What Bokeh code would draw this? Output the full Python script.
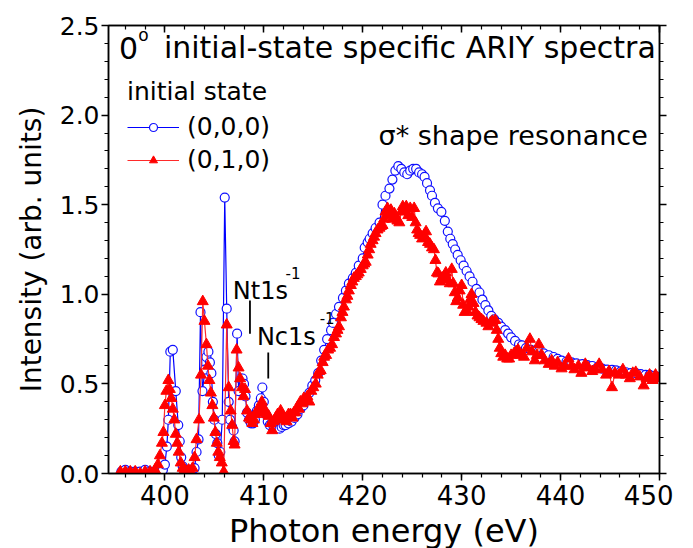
from bokeh.plotting import figure
from bokeh.models import (ColumnDataSource, Label, Legend, LegendItem, LinearAxis,
                          SingleIntervalTicker, Range1d, PrintfTickFormatter,
                          CustomJSTickFormatter)
from bokeh.embed import file_html
from bokeh.resources import INLINE

# ---------------- data ----------------
blue_energy = [
    395.6, 396.0, 396.5, 397.0, 397.5, 398.0, 398.5, 399.0, 399.5, 399.8,
    400.0, 400.2, 400.35, 400.55, 400.8, 401.1, 401.35, 401.5, 401.65, 401.8,
    402.0, 402.2, 402.4, 402.6, 402.8, 403.0, 403.2, 403.4, 403.6, 403.8,
    404.05, 404.2, 404.4, 404.55, 404.7, 404.85, 405.0, 405.15, 405.3, 405.45,
    405.6, 405.8, 406.05, 406.25, 406.45, 406.6, 406.8, 406.95, 407.05, 407.3,
    407.45, 407.65, 407.85, 408.0, 408.15, 408.3, 408.5, 408.7, 408.9, 409.1,
    409.3, 409.5, 409.7, 409.85, 410.0, 410.2, 410.4, 410.6, 410.8, 411.0,
    411.2, 411.4, 411.6, 411.8, 412.0, 412.2, 412.5, 412.8, 413.1, 413.4,
    413.7, 414.0, 414.3, 414.6, 414.9, 415.2, 415.5, 415.8, 416.1, 416.4,
    416.8, 417.0, 417.3, 417.6, 418.0, 418.3, 418.6, 419.0, 419.3, 419.6,
    420.0, 420.2, 420.5, 420.7, 421.0, 421.3, 421.7, 422.0, 422.3, 422.7,
    423.0, 423.3, 423.6, 423.9, 424.2, 424.5, 424.8, 425.1, 425.4, 425.7,
    426.0, 426.25, 426.5, 426.8, 427.0, 427.3, 427.6, 427.95, 428.3, 428.6,
    428.85, 429.1, 429.35, 429.6, 429.9, 430.2, 430.5, 430.8, 431.1, 431.5,
    431.8, 432.1, 432.4, 432.7, 433.0, 433.3, 433.7, 434.0, 434.4, 434.7,
    435.0, 435.4, 435.8, 436.1, 436.5, 437.0, 437.4, 437.8, 438.3, 438.8,
    439.3, 439.7, 440.1, 440.6, 441.1, 441.6, 442.2, 442.7, 443.2, 443.7,
    444.2, 444.7, 445.2, 445.6, 446.1, 446.6, 447.1, 447.6, 448.1, 448.6,
    449.0, 449.5, 449.9,
]
blue_intensity = [
    0.01, 0.02, 0.01, 0.01, 0.01, 0.02, 0.01, 0.01, 0.02, 0.02,
    0.05, 0.15, 0.30, 0.68, 0.69, 0.46, 0.27, 0.18, 0.09, 0.04,
    0.02, 0.02, 0.01, 0.02, 0.02, 0.03, 0.12, 0.19, 0.90, 0.46,
    0.58, 0.65, 0.68, 0.62, 0.56, 0.40, 0.30, 0.22, 0.17, 0.10,
    0.12, 0.30, 1.54, 0.92, 0.40, 0.30, 0.26, 0.24, 0.18, 0.78,
    0.46, 0.53, 0.53, 0.50, 0.43, 0.34, 0.30, 0.28, 0.28, 0.30,
    0.35, 0.38, 0.42, 0.48, 0.40, 0.33, 0.29, 0.27, 0.28, 0.26,
    0.27, 0.26, 0.25, 0.26, 0.27, 0.27, 0.28, 0.29, 0.31, 0.33,
    0.36, 0.38, 0.42, 0.45, 0.49, 0.52, 0.56, 0.63, 0.69, 0.75,
    0.80, 0.84, 0.89, 0.93, 0.98, 1.02, 1.06, 1.09, 1.12, 1.16,
    1.20, 1.26, 1.29, 1.31, 1.34, 1.37, 1.40, 1.50, 1.55, 1.59,
    1.64, 1.69, 1.715, 1.70, 1.68, 1.67, 1.69, 1.70, 1.70, 1.68,
    1.67, 1.655, 1.62, 1.58, 1.55, 1.51, 1.48, 1.46, 1.41, 1.35,
    1.31, 1.28, 1.25, 1.22, 1.19, 1.16, 1.13, 1.10, 1.07, 1.03,
    1.01, 0.97, 0.94, 0.91, 0.88, 0.86, 0.84, 0.82, 0.80, 0.78,
    0.76, 0.74, 0.72, 0.715, 0.70, 0.69, 0.685, 0.68, 0.67, 0.66,
    0.65, 0.64, 0.63, 0.625, 0.62, 0.615, 0.61, 0.605, 0.60, 0.59,
    0.585, 0.58, 0.578, 0.575, 0.57, 0.565, 0.56, 0.56, 0.555, 0.55,
    0.55, 0.545, 0.54,
]

red_energy = [
    395.5, 396.0, 396.5, 397.0, 397.5, 398.0, 398.5, 399.0, 399.3, 399.5,
    399.7, 399.85, 400.0, 400.15, 400.35, 400.5, 400.65, 400.8, 400.95, 401.1,
    401.25, 401.4, 401.6, 401.8, 402.0, 402.2, 402.4, 402.6, 402.8, 403.0,
    403.2, 403.45, 403.65, 403.83, 404.0, 404.2, 404.35, 404.5, 404.65, 404.8,
    404.95, 405.1, 405.25, 405.4, 405.55, 405.75, 405.95, 406.25, 406.45, 406.65,
    406.8, 406.95, 407.05, 407.25, 407.45, 407.6, 407.8, 407.95, 408.1, 408.3,
    408.5, 408.7, 408.85, 409.0, 409.15, 409.3, 409.5, 409.65, 409.8, 409.95,
    410.1, 410.3, 410.5, 410.7, 410.85, 411.0, 411.2, 411.4, 411.55, 411.7,
    411.9, 412.1, 412.3, 412.5, 412.7, 412.9, 413.05, 413.2, 413.4, 413.55,
    413.7, 413.9, 414.05, 414.2, 414.4, 414.6, 414.8, 415.0, 415.25, 415.45,
    415.6, 415.75, 415.95, 416.1, 416.3, 416.5, 416.7, 416.9, 417.1, 417.3,
    417.45, 417.6, 417.8, 417.95, 418.1, 418.3, 418.45, 418.6, 418.8, 418.95,
    419.1, 419.3, 419.45, 419.6, 419.8, 420.0, 420.15, 420.3, 420.5, 420.65,
    420.8, 421.0, 421.15, 421.3, 421.5, 421.7, 421.85, 422.0, 422.15, 422.3,
    422.5, 422.7, 422.85, 423.0, 423.2, 423.35, 423.5, 423.7, 423.9, 424.05,
    424.2, 424.4, 424.6, 424.8, 425.0, 425.2, 425.35, 425.5, 425.65, 425.8,
    426.0, 426.2, 426.4, 426.6, 426.8, 427.0, 427.2, 427.35, 427.5, 427.65,
    427.8, 428.0, 428.2, 428.4, 428.6, 428.8, 429.0, 429.15, 429.3, 429.45,
    429.6, 429.8, 430.0, 430.15, 430.3, 430.5, 430.7, 430.85, 431.0, 431.2,
    431.4, 431.6, 431.8, 432.0, 432.2, 432.5, 432.7, 432.9, 433.1, 433.4,
    433.55, 433.7, 433.85, 434.0, 434.2, 434.4, 434.6, 434.8, 435.0, 435.3,
    435.5, 435.7, 436.0, 436.3, 436.6, 436.9, 437.1, 437.4, 437.6, 437.8,
    438.1, 438.4, 438.8, 439.1, 439.4, 439.7, 440.1, 440.4, 440.8, 441.1,
    441.4, 441.8, 442.1, 442.5, 442.8, 443.2, 443.5, 443.9, 444.2, 444.6,
    444.9, 445.2, 445.5, 445.9, 446.3, 446.6, 447.0, 447.3, 447.6, 448.0,
    448.4, 448.7, 449.0, 449.3, 449.6, 449.9,
]
red_intensity = [
    0.01, 0.01, 0.01, 0.01, 0.00, 0.01, 0.01, 0.02, 0.05, 0.10,
    0.17, 0.23, 0.38, 0.46, 0.52, 0.47, 0.42, 0.36, 0.30, 0.22,
    0.17, 0.12, 0.06, 0.03, 0.02, 0.01, 0.02, 0.01, 0.03, 0.09,
    0.19, 0.30, 0.55, 0.96, 0.85, 0.72, 0.60, 0.52, 0.45, 0.38,
    0.31, 0.23, 0.17, 0.12, 0.09, 0.06, 0.01, 0.83, 0.48, 0.35,
    0.27, 0.18, 0.16, 0.69, 0.59, 0.53, 0.48, 0.43, 0.47, 0.35,
    0.31, 0.30, 0.28, 0.30, 0.33, 0.35, 0.34, 0.37, 0.40, 0.37,
    0.34, 0.33, 0.32, 0.28, 0.24, 0.29, 0.31, 0.33, 0.30, 0.35,
    0.30, 0.31, 0.29, 0.33, 0.33, 0.31, 0.34, 0.34, 0.37, 0.36,
    0.40, 0.39, 0.42, 0.41, 0.43, 0.40, 0.46, 0.48, 0.50, 0.55,
    0.57, 0.575, 0.62, 0.65, 0.66, 0.69, 0.70, 0.72, 0.76, 0.78,
    0.80, 0.82, 0.87, 0.90, 0.93, 0.97, 0.99, 1.02, 1.05, 1.07,
    1.09, 1.10, 1.11, 1.12, 1.14, 1.16, 1.17, 1.18, 1.22, 1.25,
    1.28, 1.30, 1.32, 1.34, 1.36, 1.37, 1.38, 1.385, 1.42, 1.46,
    1.48, 1.44, 1.47, 1.42, 1.45, 1.43, 1.41, 1.40, 1.46, 1.49,
    1.47, 1.49, 1.44, 1.48, 1.43, 1.48, 1.40, 1.36, 1.34, 1.33,
    1.31, 1.33, 1.35, 1.29, 1.28, 1.26, 1.25, 1.19, 1.12, 1.115,
    1.07, 1.09, 1.10, 1.12, 1.08, 1.06, 1.14, 1.06, 1.01, 0.96,
    0.98, 1.02, 1.05, 0.94, 0.90, 0.91, 0.93, 0.97, 1.00, 0.95,
    0.90, 0.88, 0.87, 0.86, 0.85, 0.84, 0.82, 0.84, 0.85, 0.855,
    0.80, 0.75, 0.70, 0.67, 0.65, 0.66, 0.64, 0.64, 0.66, 0.67,
    0.68, 0.69, 0.66, 0.65, 0.70, 0.75, 0.68, 0.63, 0.66, 0.72,
    0.66, 0.63, 0.61, 0.63, 0.60, 0.62, 0.585, 0.60, 0.64, 0.60,
    0.58, 0.60, 0.56, 0.61, 0.59, 0.57, 0.58, 0.61, 0.58, 0.55,
    0.57, 0.48, 0.56, 0.55, 0.58, 0.55, 0.53, 0.56, 0.565, 0.54,
    0.49, 0.53, 0.55, 0.52, 0.55, 0.53,
]
assert len(blue_energy) == len(blue_intensity)
assert len(red_energy) == len(red_intensity)

series_labels = ["(0,0,0)", "(0,1,0)"]
legend_title = "initial state"
x_label = "Photon energy (eV)"
y_label = "Intensity (arb. units)"

FONT = "DejaVu Sans"

# ---------------- figure ----------------
p = figure(frame_width=551, frame_height=448,
           x_range=Range1d(394.3, 450), y_range=Range1d(0, 2.5),
           output_backend="svg", toolbar_location=None,
           min_border_left=108, min_border_top=25,
           min_border_right=14, min_border_bottom=50,
           background_fill_color="white", border_fill_color="white")
p.xgrid.visible = False
p.ygrid.visible = False
p.outline_line_color = "black"
p.outline_line_width = 1.5

xt = SingleIntervalTicker(interval=10, num_minor_ticks=5)
yt = SingleIntervalTicker(interval=0.5, num_minor_ticks=5)

def style_axis(ax):
    ax.axis_line_color = "black"
    ax.axis_line_width = 1.5
    ax.major_tick_line_color = "black"
    ax.minor_tick_line_color = "black"
    ax.major_tick_line_width = 1.5
    ax.minor_tick_line_width = 1.2
    ax.major_label_text_font = FONT
    ax.major_label_text_color = "black"
    ax.axis_label_text_font = FONT
    ax.axis_label_text_font_style = "normal"
    ax.axis_label_text_color = "black"

xa = p.xaxis[0]
xa.ticker = xt
style_axis(xa)
xa.major_tick_out = 7
xa.major_tick_in = 0
xa.minor_tick_out = 4
xa.minor_tick_in = 0
xa.major_label_text_font_size = "26px"
xa.major_label_standoff = 4
xa.axis_label = x_label
xa.axis_label_text_font_size = "32px"
xa.axis_label_standoff = 4

ya = p.yaxis[0]
ya.ticker = yt
ya.formatter = PrintfTickFormatter(format="%.1f")
style_axis(ya)
ya.major_tick_out = 7
ya.major_tick_in = 0
ya.minor_tick_out = 4
ya.minor_tick_in = 0
ya.major_label_text_font_size = "25px"
ya.major_label_standoff = 2
ya.axis_label = y_label
ya.axis_label_text_font_size = "28px"
ya.axis_label_standoff = 9

blank = CustomJSTickFormatter(code="return ''")
ra = LinearAxis(ticker=SingleIntervalTicker(interval=0.5, num_minor_ticks=5), formatter=blank)
style_axis(ra)
ra.major_tick_out = 7
ra.major_tick_in = 0
ra.minor_tick_out = 4
ra.minor_tick_in = 0
ra.major_label_standoff = 0
p.add_layout(ra, "right")

ta = LinearAxis(ticker=SingleIntervalTicker(interval=10, num_minor_ticks=5), formatter=blank)
style_axis(ta)
ta.major_tick_out = 0
ta.major_tick_in = 7
ta.minor_tick_out = 0
ta.minor_tick_in = 4
ta.major_label_standoff = 0
p.add_layout(ta, "above")

# ---------------- series ----------------
blue_src = ColumnDataSource(dict(x=blue_energy, y=blue_intensity))
red_src = ColumnDataSource(dict(x=red_energy, y=red_intensity))

bl = p.line("x", "y", source=blue_src, line_color="#0000ff", line_width=1.2)
bs = p.scatter("x", "y", source=blue_src, marker="circle", size=9,
               line_color="#1010ff", line_width=1.2, fill_color="white")
rl = p.line("x", "y", source=red_src, line_color="#ff2a2a", line_width=1.2)
rs = p.scatter("x", "y", source=red_src, marker="triangle", size=11,
               line_color="#ff0000", fill_color="#ff0000")

legend = Legend(items=[LegendItem(label=series_labels[0], renderers=[bl, bs]),
                       LegendItem(label=series_labels[1], renderers=[rl, rs])],
                location=(19, 299), title=legend_title,
                title_text_font=FONT, title_text_font_size="25px",
                title_text_font_style="normal", title_text_color="black",
                title_standoff=6,
                label_text_font=FONT, label_text_font_size="25px",
                label_text_color="black",
                glyph_width=52, glyph_height=20, label_standoff=8,
                spacing=4, padding=0, margin=0,
                border_line_alpha=0, background_fill_alpha=0)
p.add_layout(legend)

# ---------------- annotations ----------------
def lab(x, y, text, size):
    p.add_layout(Label(x=x, y=y, text=text, text_font=FONT,
                       text_font_size=size, text_color="black",
                       text_baseline="middle", text_align="left"))

lab(395.35, 2.377, "0", "30px")
lab(397.3, 2.445, "o", "17px")
lab(399.9, 2.377, "initial-state specific ARIY spectra", "30px")
lab(421.6, 1.886, "σ* shape resonance", "27px")
lab(406.87, 1.02, "Nt1s", "24px")
lab(412.2, 1.12, "-1", "15px")
lab(409.3, 0.76, "Nc1s", "24px")
lab(415.65, 0.865, "-1", "15px")

mark_x = [408.6, 410.45]
mark_y0 = [0.78, 0.53]
mark_y1 = [0.965, 0.675]
p.segment(x0=mark_x, y0=mark_y0, x1=mark_x, y1=mark_y1,
          line_color="black", line_width=1.8)

open("out.html", "w").write(file_html(p, INLINE))
